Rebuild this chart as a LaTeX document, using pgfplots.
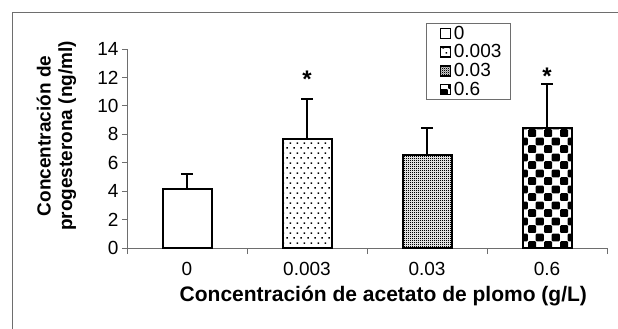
\documentclass[border=0pt]{standalone}
\usepackage{fontspec}
\setmainfont{Liberation Sans}
\usepackage{pgfplots}
\pgfplotsset{compat=1.18}
\usetikzlibrary{patterns.meta}

\tikzdeclarepattern{
  name=sparsedots, type=uncolored,
  bounding box={(0pt,0pt) and (6.5pt,10pt)},
  tile size={(6.5pt,10pt)},
  code={
    \pgfpathrectangle{\pgfpoint{0.5pt}{0.5pt}}{\pgfpoint{1.6pt}{1.6pt}}
    \pgfpathrectangle{\pgfpoint{3.75pt}{5.5pt}}{\pgfpoint{1.6pt}{1.6pt}}
    \pgfusepath{fill}
  }
}
\tikzdeclarepattern{
  name=finecheck, type=uncolored,
  bounding box={(0pt,0pt) and (2pt,2pt)},
  tile size={(2pt,2pt)},
  code={
    \pgfpathrectangle{\pgfpoint{0pt}{0pt}}{\pgfpoint{1.15pt}{1.15pt}}
    \pgfpathrectangle{\pgfpoint{1pt}{1pt}}{\pgfpoint{1.15pt}{1.15pt}}
    \pgfusepath{fill}
  }
}
\tikzdeclarepattern{
  name=bigcheck, type=uncolored,
  bounding box={(0pt,0pt) and (16pt,16pt)},
  tile size={(16pt,16pt)},
  code={
    \pgfsetcornersarced{\pgfpoint{1.2pt}{1.2pt}}
    \pgfpathrectangle{\pgfpoint{0pt}{0pt}}{\pgfpoint{8.6pt}{8.3pt}}
    \pgfpathrectangle{\pgfpoint{8pt}{8pt}}{\pgfpoint{8.6pt}{8.3pt}}
    \pgfusepath{fill}
  }
}

\definecolor{axgray}{RGB}{110,110,110}

\pgfplotsset{
  mybar/.style={ybar, bar width=49pt, bar shift=0pt, draw=black, line width=2pt,
    error bars/.cd, y dir=plus, y explicit,
    error bar style={line width=2pt, black},
    error mark options={rotate=90, line width=2pt, mark size=6pt, black},
    /pgfplots/.cd,
    legend image code/.code={\draw[##1, line width=1.5pt] (6pt,-5pt) rectangle (16pt,5pt);
      \path (0pt,0pt) (16.5pt,0pt);}
  }
}

\begin{document}
\begin{tikzpicture}
\useasboundingbox (-127pt,-81pt) rectangle (491pt,248pt);
\draw[axgray, line width=0.9pt] (-115pt,-95pt) -- (-115pt,235.3pt) -- (500pt,235.3pt);
\begin{axis}[
  at={(0pt,0pt)}, anchor=south west,
  scale only axis, width=480pt, height=199pt,
  xmin=-0.5, xmax=3.5, ymin=0, ymax=14,
  axis x line*=bottom, axis y line*=left,
  axis line style={-, axgray, line width=0.8pt},
  xtick={0,1,2,3}, xticklabels={0,0.003,0.03,0.6},
  minor xtick={-0.5,0.5,1.5,2.5,3.5},
  ytick={0,2,4,6,8,10,12,14},
  tick align=outside,
  major tick length=5pt, minor tick length=6pt,
  tick style={axgray, line width=0.8pt},
  major x tick style={draw=none},
  /pgf/number format/assume math mode=true,
  tick label style={font=\fontsize{19}{22}\selectfont},
  xticklabel style={yshift=-6pt},
  xlabel={\textbf{Concentración de acetato de plomo (g/L)}},
  xlabel style={font=\fontsize{21}{24}\selectfont, at={(axis description cs:0.534,-0.241)}, anchor=center},
  ylabel={\textbf{Concentración de}\\\textbf{progesterona (ng/ml)}},
  ylabel style={font=\fontsize{19}{21.5}\selectfont, align=center, at={(axis description cs:-0.147,0.563)}, anchor=center},
  legend style={at={(axis description cs:0.6229,1.1307)}, anchor=north west,
    draw=axgray, line width=0.8pt, font=\fontsize{19}{19.5}\selectfont,
    inner xsep=7pt, inner ysep=0.5pt, row sep=0pt, column sep=0pt},
  legend cell align=left,
  clip=false,
]
\addplot[mybar, fill=white] coordinates {(0,4.15) +- (0,1.05)};
\addlegendentry{0}
\addplot[mybar, pattern=sparsedots, pattern color=black] coordinates {(1,7.67) +- (0,2.79)};
\addlegendentry{0.003\hspace{3pt}}
\addplot[mybar, pattern=finecheck, pattern color=black] coordinates {(2,6.54) +- (0,1.90)};
\addlegendentry{0.03}
\addplot[mybar, pattern=bigcheck, pattern color=black] coordinates {(3,8.47) +- (0,3.05)};
\addlegendentry{0.6}
\addplot[forget plot, draw=none, mark=none, nodes near coords={*}, point meta=y,
  nodes near coords align={center},
  every node near coord/.append style={anchor=center, font=\bfseries\fontsize{24}{24}\selectfont}]
  coordinates {(1,11.85) (3,12.05)};
\end{axis}
\end{tikzpicture}
\end{document}
